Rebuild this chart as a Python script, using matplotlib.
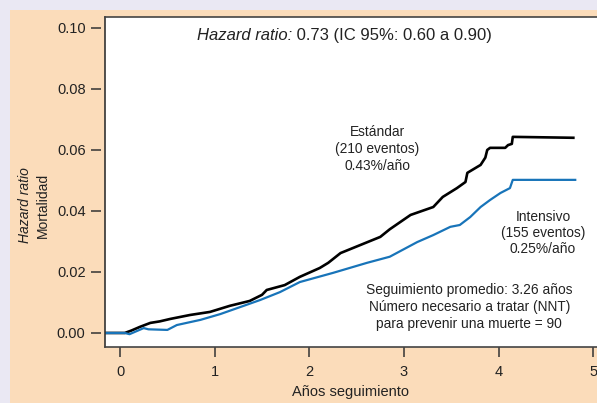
import matplotlib
matplotlib.use("Agg")
import matplotlib.pyplot as plt
from matplotlib.patches import Rectangle

plt.rcParams['font.family'] = ['Liberation Sans', 'DejaVu Sans']

# curva Estandar (tiempo en anos, mortalidad acumulada)
t_std = [-0.16, 0.05, 0.12, 0.21, 0.32, 0.42, 0.53, 0.74, 0.95, 1.16, 1.37, 1.50,
         1.55, 1.74, 1.90, 2.11, 2.20, 2.33, 2.75, 2.85, 3.07, 3.31, 3.41, 3.56,
         3.65, 3.67, 3.81, 3.86, 3.88, 3.91, 4.07, 4.10, 4.14, 4.15, 4.79]
m_std = [0, 0, 0.0008, 0.002, 0.0033, 0.0038, 0.0046, 0.0059, 0.0069, 0.0089,
         0.0105, 0.0125, 0.0141, 0.0157, 0.0184, 0.0213, 0.0230, 0.0262, 0.0315,
         0.0340, 0.0387, 0.0413, 0.0446, 0.0475, 0.0495, 0.0525, 0.0551, 0.0575,
         0.060, 0.0607, 0.0607, 0.0616, 0.0620, 0.0643, 0.064]

# curva Intensivo
t_int = [-0.16, 0.05, 0.10, 0.25, 0.30, 0.50, 0.60, 0.85, 1.06, 1.27, 1.48, 1.69,
         1.90, 2.25, 2.61, 2.85, 3.14, 3.31, 3.49, 3.59, 3.70, 3.81, 3.91, 4.02,
         4.12, 4.15, 4.81]
m_int = [0, 0, -0.0004, 0.0016, 0.0012, 0.001, 0.0026, 0.0043, 0.0062, 0.0085,
         0.0108, 0.0134, 0.0167, 0.0197, 0.023, 0.025, 0.0298, 0.0321, 0.0348,
         0.0354, 0.038, 0.0413, 0.0436, 0.0459, 0.0475, 0.0502, 0.0502]

xticks = [0, 1, 2, 3, 4, 5]
yticks = [0.00, 0.02, 0.04, 0.06, 0.08, 0.10]
ytick_labels = ["0.00", "0.02", "0.04", "0.06", "0.08", "0.10"]

W, H = 597, 403
fig = plt.figure(figsize=(W / 100, H / 100), dpi=100)
fig.patch.set_facecolor('#eae8f3')
fig.patches.append(Rectangle((10 / W, 0), 1, 1 - 10 / H, transform=fig.transFigure,
                             facecolor='#fbdcba', edgecolor='none', zorder=-10))

ax = fig.add_axes([105 / W, (H - 347) / H, (W - 105) / W, 330 / H])
ax.set_facecolor('white')

ax.plot(t_std, m_std, color='black', lw=1.9, solid_joinstyle='round')
ax.plot(t_int, m_int, color='#1874b9', lw=1.6, solid_joinstyle='round')

ax.set_xlim(-0.159, 5.04)
ax.set_ylim(-0.0046, 0.1036)

ax.set_xticks(xticks)
ax.set_yticks(yticks)
ax.set_yticklabels(ytick_labels)

ax.spines['right'].set_visible(False)
ax.spines['top'].set_color('#444444')
ax.spines['bottom'].set_color('#444444')
ax.spines['left'].set_position(('outward', 3))
ax.spines['left'].set_visible(False)
ax.axvline(-0.159, color='#333333', lw=1.2, clip_on=False)
for s in ['top', 'bottom']:
    ax.spines[s].set_linewidth(1.2)

ax.tick_params(axis='y', direction='out', length=7.5, width=1.1, color='#333333',
               pad=3.5, labelsize=10.5, labelcolor='#222222')
ax.tick_params(axis='x', direction='out', length=7.5, width=1.1, color='#333333',
               pad=5.5, labelsize=10.5, labelcolor='#222222')

ax.set_xlabel("Años seguimiento", fontsize=10.5, color='#222222', labelpad=4)

fig.text(25 / W, 1 - 205 / H, "Hazard ratio", rotation=90, style='italic',
         fontsize=10, ha='center', va='center', color='#222222')
fig.text(43 / W, 1 - 205 / H, "Mortalidad", rotation=90,
         fontsize=10, ha='center', va='center', color='#222222')

t1 = ax.text(0.814, 0.0951, "Hazard ratio:", style='italic', fontsize=12,
             ha='left', va='bottom', color='#222222')
ax.annotate(" 0.73 (IC 95%: 0.60 a 0.90)", xy=(1, 0), xycoords=t1,
            ha='left', va='bottom', fontsize=12, color='#222222')

ax.text(2.72, 0.0603, "Estándar\n(210 eventos)\n0.43%/año", ha='center', va='center',
        fontsize=9.9, linespacing=1.25, color='#222222')
ax.text(4.47, 0.0328, "Intensivo\n(155 eventos)\n0.25%/año", ha='center', va='center',
        fontsize=9.9, linespacing=1.2, color='#222222')
ax.text(3.69, 0.0085, "Seguimiento promedio: 3.26 años\nNúmero necesario a tratar (NNT)\n"
        "para prevenir una muerte = 90", ha='center', va='center',
        fontsize=9.9, linespacing=1.25, color='#222222')

fig.savefig("out.png", dpi=100)
